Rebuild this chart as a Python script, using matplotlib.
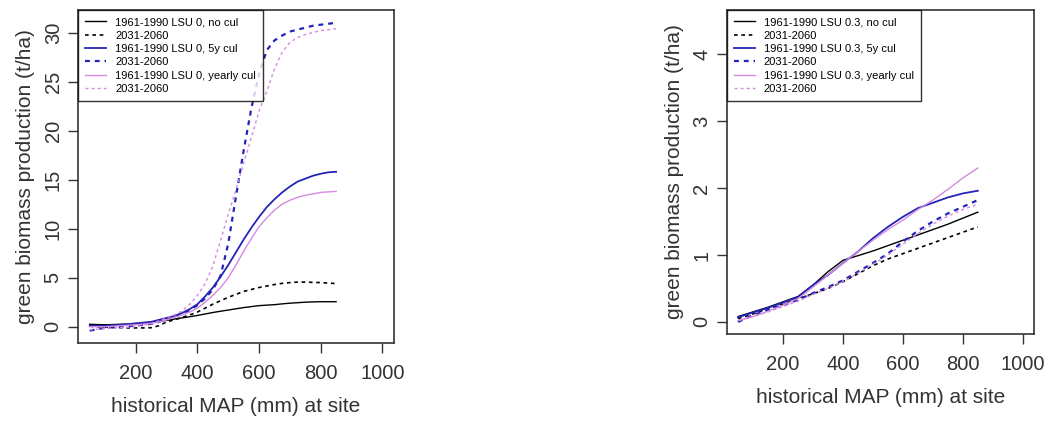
import numpy as np
import matplotlib
matplotlib.use('Agg')
import matplotlib.pyplot as plt

plt.rcParams['font.family'] = ['Liberation Sans', 'DejaVu Sans']

# MAP (mm) at which the curves were evaluated
map_left = [50, 75, 100, 125, 150, 175, 200, 225, 250, 275, 300, 325, 350, 375, 400,
            425, 450, 475, 500, 525, 550, 575, 600, 625, 650, 675, 700, 725, 750,
            775, 800, 825, 850]
map_right = [50, 100, 150, 200, 250, 300, 350, 400, 450, 500, 550, 600, 650, 700,
             750, 800, 850]

# left panel: LSU 0
l_nocut_hist = [0.25, 0.22, 0.2, 0.22, 0.25, 0.27, 0.3, 0.37, 0.45, 0.55, 0.65, 0.78, 0.9, 1.02,
                1.15, 1.3, 1.45, 1.58, 1.7, 1.83, 1.95, 2.05, 2.15, 2.2, 2.25, 2.33, 2.4, 2.45,
                2.5, 2.53, 2.55, 2.55, 2.55]
l_nocut_fut = [0.05, 0.0, -0.05, -0.08, -0.1, -0.12, -0.12, -0.12, -0.1, 0.1, 0.5, 0.7, 0.95, 1.2,
               1.5, 1.9, 2.3, 2.65, 3.0, 3.3, 3.6, 3.8, 4.0, 4.15, 4.3, 4.42, 4.5, 4.55,
               4.55, 4.52, 4.5, 4.45, 4.4]
l_5y_hist = [0.1, 0.1, 0.1, 0.15, 0.2, 0.27, 0.35, 0.42, 0.5, 0.7, 0.9, 1.1, 1.4, 1.8,
             2.3, 3.1, 4.0, 5.1, 6.3, 7.6, 8.9, 10.1, 11.2, 12.2, 13.0, 13.7, 14.3, 14.8,
             15.1, 15.4, 15.6, 15.75, 15.8]
l_5y_fut = [-0.4, -0.25, -0.1, -0.05, 0.0, 0.05, 0.1, 0.2, 0.3, 0.5, 0.8, 1.0, 1.3, 1.7,
            2.2, 2.9, 3.8, 5.2, 8.5, 13.3, 18.0, 22.3, 25.8, 28.2, 29.2, 29.7, 30.1, 30.3,
            30.5, 30.7, 30.8, 30.9, 31.0]
l_yr_hist = [0.0, 0.0, 0.0, 0.05, 0.1, 0.15, 0.2, 0.27, 0.35, 0.5, 0.7, 0.95, 1.2, 1.5,
             1.9, 2.5, 3.2, 4.0, 5.0, 6.3, 7.7, 9.0, 10.2, 11.1, 11.9, 12.5, 12.9, 13.2,
             13.4, 13.55, 13.7, 13.75, 13.8]
l_yr_fut = [-0.3, -0.25, -0.2, -0.15, -0.1, -0.05, 0.0, 0.15, 0.3, 0.6, 0.9, 1.2, 1.6, 2.3,
            3.2, 4.4, 6.2, 8.8, 11.5, 14.0, 16.7, 19.3, 22.0, 24.0, 26.3, 28.0, 29.0, 29.5,
            29.8, 30.0, 30.2, 30.3, 30.4]

# right panel: LSU 0.3
r_nocut_hist = [0.08, 0.15, 0.22, 0.3, 0.38, 0.55, 0.75, 0.92, 0.99, 1.06, 1.14, 1.22, 1.3,
                1.38, 1.46, 1.55, 1.64]
r_nocut_fut = [0.05, 0.12, 0.2, 0.27, 0.35, 0.42, 0.5, 0.6, 0.72, 0.84, 0.94, 1.02, 1.1,
               1.18, 1.26, 1.34, 1.42]
r_5y_hist = [0.07, 0.14, 0.21, 0.29, 0.37, 0.55, 0.7, 0.88, 1.05, 1.25, 1.42, 1.57, 1.7,
             1.78, 1.86, 1.92, 1.96]
r_5y_fut = [0.0, 0.1, 0.18, 0.25, 0.33, 0.43, 0.52, 0.62, 0.75, 0.88, 1.02, 1.2, 1.36,
            1.5, 1.62, 1.72, 1.82]
r_yr_hist = [0.02, 0.08, 0.16, 0.25, 0.35, 0.52, 0.7, 0.88, 1.05, 1.22, 1.38, 1.52, 1.68,
             1.82, 1.98, 2.15, 2.3]
r_yr_fut = [0.02, 0.08, 0.15, 0.23, 0.31, 0.41, 0.5, 0.6, 0.73, 0.86, 1.0, 1.16, 1.32,
            1.46, 1.58, 1.68, 1.76]

BLUE = '#2424b8'
VIOLET = '#d48ae0'
INK = '#333333'


def draw_panel(ax, x, series, lsu, ylim, yticks):
    styles = [('black', '-', 1.0), ('black', '--', 1.2),
              (BLUE, '-', 1.3), (BLUE, '--', 1.6),
              (VIOLET, '-', 1.0), (VIOLET, '--', 1.0)]
    labels = [f'1961-1990 LSU {lsu}, no cul', '2031-2060',
              f'1961-1990 LSU {lsu}, 5y cul', '2031-2060',
              f'1961-1990 LSU {lsu}, yearly cul', '2031-2060']
    for y, (c, ls, lw), lab in zip(series, styles, labels):
        line, = ax.plot(x, y, color=c, linestyle=ls, linewidth=lw, label=lab)
        if ls == '--':
            line.set_dashes((2.2, 2.2))

    ax.set_xlim(12, 1038)
    ax.set_ylim(*ylim)
    ax.set_xticks([200, 400, 600, 800, 1000])
    ax.set_yticks(yticks)
    ax.tick_params(axis='both', labelsize=14.5, length=7, width=1, color=INK, labelcolor=INK)
    ax.tick_params(axis='x', pad=8)
    ax.tick_params(axis='y', pad=4)
    for lab in ax.get_yticklabels():
        lab.set_rotation(90)
        lab.set_va('center')
    for sp in ax.spines.values():
        sp.set_linewidth(1.2)
        sp.set_color(INK)
    ax.set_xlabel('historical MAP (mm) at site', fontsize=15, labelpad=10, color=INK)
    ax.set_ylabel('green biomass production (t/ha)', fontsize=15, labelpad=6, color=INK)

    leg = ax.legend(loc='upper left', bbox_to_anchor=(0, 1), fontsize=8, frameon=True,
                    fancybox=False, borderaxespad=0, handlelength=1.9, handletextpad=0.8,
                    labelspacing=0.3, borderpad=0.65)
    leg.get_frame().set_edgecolor('black')
    leg.get_frame().set_linewidth(1.0)


fig = plt.figure(figsize=(10.44, 4.21), dpi=100)
ax1 = fig.add_axes([0.0747, 0.1853, 0.3027, 0.7909])
ax2 = fig.add_axes([0.696, 0.2067, 0.2946, 0.7695])

draw_panel(ax1, map_left,
           [l_nocut_hist, l_nocut_fut, l_5y_hist, l_5y_fut, l_yr_hist, l_yr_fut],
           '0', (-1.66, 32.3), [0, 5, 10, 15, 20, 25, 30])
draw_panel(ax2, map_right,
           [r_nocut_hist, r_nocut_fut, r_5y_hist, r_5y_fut, r_yr_hist, r_yr_fut],
           '0.3', (-0.18, 4.66), [0, 1, 2, 3, 4])

fig.savefig('out.png', dpi=100)
